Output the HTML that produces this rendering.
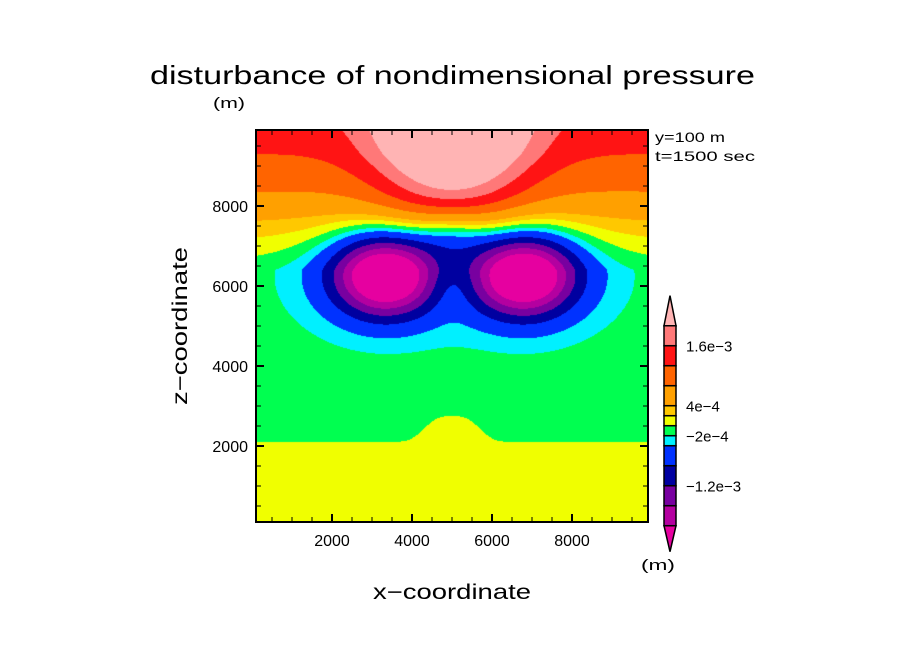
<!DOCTYPE html>
<html><head><meta charset="utf-8"><style>
html,body{margin:0;padding:0;background:#fff;}
#wrap{position:relative;width:904px;height:654px;overflow:hidden;}
svg{position:absolute;left:0;top:0;}
canvas{position:absolute;left:256px;top:130px;}
text{font-family:"Liberation Sans",sans-serif;fill:#000;}
</style></head><body>
<div id="wrap">
<canvas id="field" width="392" height="392"></canvas>
<svg id="svg" width="904" height="654">
<text x="150" y="84" font-size="26" textLength="605" lengthAdjust="spacingAndGlyphs">disturbance of nondimensional pressure</text>
<text x="213" y="108" font-size="15" textLength="32" lengthAdjust="spacingAndGlyphs">(m)</text>
<text x="655" y="142" font-size="14" textLength="70" lengthAdjust="spacingAndGlyphs">y=100 m</text>
<text x="655" y="161" font-size="14" textLength="100" lengthAdjust="spacingAndGlyphs">t=1500 sec</text>
<text x="373" y="599" font-size="21" textLength="158" lengthAdjust="spacingAndGlyphs">x−coordinate</text>
<text transform="translate(187,405) rotate(-90)" font-size="21" textLength="158" lengthAdjust="spacingAndGlyphs">z−coordinate</text>
<text x="641" y="570" font-size="15" textLength="34" lengthAdjust="spacingAndGlyphs">(m)</text>
<g id="axes"></g>
<g id="cbar"></g>
</svg>
</div>
<script>
// data (values in units of 1e-4)
const levels = [-20,-16,-12,-8,-4,-2,0,2,4,8,12,16,20];
const levelColors = ['#e600a0','#b400a0','#7800a0','#0000a0','#0032ff','#00f0ff','#00ff50','#f0ff00','#ffc800','#ffa000','#ff6400','#ff1414','#ff7878','#ffb4b4'];
const cbarLabelValues = [16,4,-2,-12];
const cbarLabels = ['1.6e-3','4e-4','-2e-4','-1.2e-3'];
const xTicks = [2000,4000,6000,8000];
const zTicks = [2000,4000,6000,8000];
const baseZ = [0,2000,2200,6400,6650,7150,7600,8350,9300,10000];
const baseV = [1,1,-1,-1,0,2,4,8,12,14];
const featX = [5000,3330,6800,3330,6800,5000,5000];
const featZ = [10400,6250,6250,6250,6250,7200,6000];
const featA = [25,-24,-24,-5,-5,-6,3];
const featSX = [1800,1200,1200,2100,2100,1000,600];
const featSZ = [2400,950,950,1350,1350,700,700];
const humpX = [5000];
const humpH = [650];
const humpW = [800];

const X0=256,Y0=130,W=392,H=392,DMIN=100,DMAX=9900;
function sx(v){return X0+(v-DMIN)/(DMAX-DMIN)*W;}
function sz(v){return Y0+H-(v-DMIN)/(DMAX-DMIN)*H;}
function base(z){
  for(let i=1;i<baseZ.length;i++){ if(z<=baseZ[i]){const t=(z-baseZ[i-1])/(baseZ[i]-baseZ[i-1]);return baseV[i-1]+t*(baseV[i]-baseV[i-1]);} }
  return baseV[baseV.length-1];
}
function hump(x){let h=0;for(let k=0;k<humpX.length;k++){const d=(x-humpX[k])/humpW[k];h+=humpH[k]*Math.exp(-Math.pow(Math.abs(d),3));}return h;}
function field(x,z){
  const wgt=z<3500?1:(z>4500?0:(4500-z)/1000);
  let f=base(z-hump(x)*wgt);
  for(let k=0;k<featX.length;k++){const dx=(x-featX[k])/featSX[k],dz=(z-featZ[k])/featSZ[k];f+=featA[k]*Math.exp(-(dx*dx+dz*dz));}
  return f;
}
function colorFor(v){let i=0;while(i<levels.length&&v>=levels[i])i++;return levelColors[i];}
function hex(c){return [parseInt(c.substr(1,2),16),parseInt(c.substr(3,2),16),parseInt(c.substr(5,2),16)];}
const cv=document.getElementById('field'),ctx=cv.getContext('2d'),img=ctx.createImageData(W,H);
for(let j=0;j<H;j++){for(let i=0;i<W;i++){
  const x=DMIN+(i+0.5)/W*(DMAX-DMIN),z=DMAX-(j+0.5)/H*(DMAX-DMIN);
  const c=hex(colorFor(field(x,z)));const p=(j*W+i)*4;
  img.data[p]=c[0];img.data[p+1]=c[1];img.data[p+2]=c[2];img.data[p+3]=255;}}
ctx.putImageData(img,0,0);

const NS='http://www.w3.org/2000/svg';
function mk(tag,attrs,parent){const e=document.createElementNS(NS,tag);for(const k in attrs)e.setAttribute(k,attrs[k]);parent.appendChild(e);return e;}
const ax=document.getElementById('axes');
const frame=mk('rect',{x:X0,y:Y0,width:W,height:H,fill:'none',stroke:'#000','stroke-width':2},ax);


for(let v=500;v<DMAX;v+=500){
  const major=(v%2000===0),L=major?8:5;
  const px=sx(v),py=sz(v);
  [[px,Y0,px,Y0+L],[px,Y0+H,px,Y0+H-L],[X0,py,X0+L,py],[X0+W,py,X0+W-L,py]].forEach(a=>{
    const t=mk('line',{x1:a[0],y1:a[1],x2:a[2],y2:a[3],stroke:'#000','stroke-width':major?2:1},ax);
    
    
  });
}
xTicks.forEach(v=>{const t=mk('text',{x:sx(v),y:Y0+H+24,'font-size':16,'text-anchor':'middle'},ax);t.textContent=v;
  
  });
zTicks.forEach(v=>{const t=mk('text',{x:X0-8,y:sz(v)+6,'font-size':16,'text-anchor':'end'},ax);t.textContent=v;
  
  });

// colorbar
const cb=document.getElementById('cbar');
const CB0=425.7,CBS=5,CX=664,CW=12;
function cy(v){return CB0-v*CBS;}
for(let i=0;i<levels.length-1;i++){
  const r=mk('rect',{x:CX,y:cy(levels[i+1]),width:CW,height:cy(levels[i])-cy(levels[i+1]),fill:levelColors[i+1],stroke:'#000','stroke-width':1.5},cb);
  
  
}
const tTop=mk('polygon',{points:`${CX},${cy(levels[levels.length-1])} ${CX+CW},${cy(levels[levels.length-1])} ${CX+CW/2},${cy(levels[levels.length-1])-30}`,fill:levelColors[levelColors.length-1],stroke:'#000','stroke-width':1.5},cb);


const tBot=mk('polygon',{points:`${CX},${cy(levels[0])} ${CX+CW},${cy(levels[0])} ${CX+CW/2},${cy(levels[0])+26}`,fill:levelColors[0],stroke:'#000','stroke-width':1.5},cb);


cbarLabelValues.forEach((v,i)=>{const t=mk('text',{x:686,y:cy(v)+6,'font-size':15},cb);t.textContent=cbarLabels[i].replace('-','−').replace('e-','e−');
  
  });
</script>
</body></html>
